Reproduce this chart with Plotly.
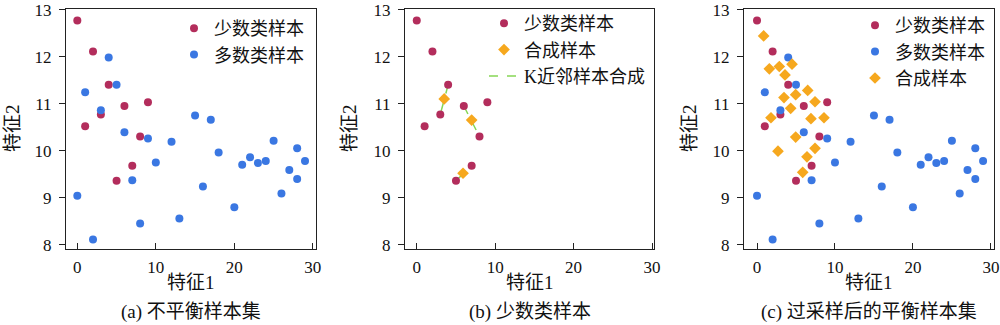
import plotly.graph_objects as go

# ---- data -------------------------------------------------------------
# minority class samples
MIN_X = [0, 2, 4, 3, 1, 6, 9, 8, 7, 5]
MIN_Y = [12.77, 12.11, 11.40, 10.77, 10.52, 10.95, 11.03, 10.30, 9.68, 9.36]

# majority class samples
MAJ_X = [0, 1, 2, 3, 4, 5, 6, 7, 8, 9, 10, 12, 13, 15, 16, 17, 18, 20,
         21, 22, 23, 24, 25, 26, 27, 28, 28, 29]
MAJ_Y = [9.04, 11.24, 8.11, 10.86, 11.98, 11.40, 10.39, 9.37, 8.45, 10.26,
         9.75, 10.19, 8.56, 10.75, 9.24, 10.66, 9.96, 8.80, 9.70, 9.86,
         9.74, 9.78, 10.21, 9.09, 9.59, 10.05, 9.40, 9.78]

# neighbour pairs (indices into the minority arrays) used for synthesis
PAIRS = [(2, 3), (5, 7), (9, 8)]
# synthetic samples generated on those pairs
SYN_B_X = [3.5, 7.0, 5.9]
SYN_B_Y = [11.1, 10.65, 9.52]

# all synthetic samples after oversampling
SYN_X = [0.85, 1.58, 2.86, 4.49, 3.59, 4.96, 3.46, 6.5, 7.44, 4.32, 1.79,
         6.92, 8.59, 4.96, 2.69, 7.44, 6.41, 5.86]
SYN_Y = [12.44, 11.74, 11.79, 11.84, 11.61, 11.19, 11.13, 11.28, 11.04,
         10.90, 10.70, 10.68, 10.70, 10.29, 9.99, 10.05, 9.87, 9.54]

X_TICKS = [0, 10, 20, 30]
Y_TICKS = [8, 9, 10, 11, 12, 13]

CAPTIONS = ["(a) 不平衡样本集", "(b) 少数类样本", "(c) 过采样后的平衡样本集"]
LBL_MIN = "少数类样本"
LBL_MAJ = "多数类样本"
LBL_SYN = "合成样本"
LBL_KNN = "K近邻样本合成"
X_TITLE = "特征1"
Y_TITLE = "特征2"

# ---- style ------------------------------------------------------------
RED = "#B32D5C"
BLUE = "#3A77E2"
ORANGE = "#F6A81E"
GREEN = "#86D656"
FONT = "Liberation Serif, Noto Sans CJK SC, serif"

W, H = 1000, 325
# plot areas in pixels: (left, right)
PANELS = [(66, 316), (405, 654), (744, 994)]
TOP_PX, BOT_PX = 9, 249
X_RANGES = [[-1.44, 30.4], [-1.5, 30.25], [-1.67, 30.4]]
Y_RANGE = [7.91, 13.012]

fig = go.Figure()

circle = dict(symbol="circle", size=8)
diamond = dict(symbol="diamond", size=9)

# panel (a)
fig.add_trace(go.Scatter(x=MIN_X, y=MIN_Y, mode="markers", name=LBL_MIN,
                         marker=dict(color=RED, **circle),
                         xaxis="x", yaxis="y", legend="legend"))
fig.add_trace(go.Scatter(x=MAJ_X, y=MAJ_Y, mode="markers", name=LBL_MAJ,
                         marker=dict(color=BLUE, **circle),
                         xaxis="x", yaxis="y", legend="legend"))

# panel (b)
lx, ly = [], []
for i, j in PAIRS:
    lx += [MIN_X[i], MIN_X[j], None]
    ly += [MIN_Y[i], MIN_Y[j], None]
knn = go.Scatter(x=lx, y=ly, mode="lines", name=LBL_KNN,
                 line=dict(color=GREEN, width=1.5, dash="dash"),
                 xaxis="x2", yaxis="y2", legend="legend2", legendrank=3)
fig.add_trace(knn)
fig.add_trace(go.Scatter(x=MIN_X, y=MIN_Y, mode="markers", name=LBL_MIN,
                         marker=dict(color=RED, **circle),
                         xaxis="x2", yaxis="y2", legend="legend2", legendrank=1))
fig.add_trace(go.Scatter(x=SYN_B_X, y=SYN_B_Y, mode="markers", name=LBL_SYN,
                         marker=dict(color=ORANGE, **diamond),
                         xaxis="x2", yaxis="y2", legend="legend2", legendrank=2))

# panel (c)
fig.add_trace(go.Scatter(x=MIN_X, y=MIN_Y, mode="markers", name=LBL_MIN,
                         marker=dict(color=RED, **circle),
                         xaxis="x3", yaxis="y3", legend="legend3"))
fig.add_trace(go.Scatter(x=MAJ_X, y=MAJ_Y, mode="markers", name=LBL_MAJ,
                         marker=dict(color=BLUE, **circle),
                         xaxis="x3", yaxis="y3", legend="legend3"))
fig.add_trace(go.Scatter(x=SYN_X, y=SYN_Y, mode="markers", name=LBL_SYN,
                         marker=dict(color=ORANGE, **diamond),
                         xaxis="x3", yaxis="y3", legend="legend3"))

ydom = [1 - BOT_PX / H, 1 - TOP_PX / H]
axis_common = dict(showgrid=False, zeroline=False, showline=True,
                   linecolor="#222", linewidth=1.2, mirror=True,
                   tickcolor="#222", tickwidth=1.2, automargin=False,
                   ticklabeloverflow="allow",
                   tickfont=dict(family=FONT, size=17, color="#111"))

layout = dict(width=W, height=H, margin=dict(l=0, r=0, t=0, b=0,
                                             autoexpand=False),
              plot_bgcolor="white", paper_bgcolor="white",
              font=dict(family=FONT, size=17, color="#111"))

legend_left = [174, 484, 855]
legend_top = [10, 5, 7]
annotations = []
for k, ((l, r), xr) in enumerate(zip(PANELS, X_RANGES)):
    sfx = "" if k == 0 else str(k + 1)
    layout["xaxis" + sfx] = dict(domain=[l / W, r / W], range=xr,
                                 tickvals=X_TICKS, ticks="inside", ticklen=6,
                                 ticklabelstandoff=2,
                                 anchor="y" + sfx, **axis_common)
    layout["yaxis" + sfx] = dict(domain=ydom, range=Y_RANGE,
                                 tickvals=Y_TICKS, ticks="outside", ticklen=6,
                                 ticklabelstandoff=4,
                                 anchor="x" + sfx, **axis_common)
    layout["legend" + sfx] = dict(x=legend_left[k] / W,
                                  y=1 - legend_top[k] / H,
                                  xanchor="left", yanchor="top",
                                  bgcolor="rgba(0,0,0,0)",
                                  font=dict(family=FONT, size=18, color="#111"),
                                  itemwidth=30, tracegroupgap=0)
    cx = (l + r) / 2 / W
    annotations.append(dict(text=X_TITLE, x=cx, y=1 - 282 / H, xref="paper",
                            yref="paper", showarrow=False,
                            xanchor="center", yanchor="middle",
                            font=dict(family=FONT, size=19, color="#111")))
    annotations.append(dict(text=CAPTIONS[k], x=cx, y=1 - 312 / H,
                            xref="paper", yref="paper", showarrow=False,
                            xanchor="center", yanchor="middle",
                            font=dict(family=FONT, size=19, color="#111")))
    ylab_x = [12, 349, 689][k]
    annotations.append(dict(text=Y_TITLE, x=ylab_x / W, y=1 - 128 / H,
                            xref="paper", yref="paper", showarrow=False,
                            xanchor="center", yanchor="middle",
                            textangle=-90,
                            font=dict(family=FONT, size=19, color="#111")))

layout["annotations"] = annotations
fig.update_layout(**layout)
fig.write_html("out.html")
